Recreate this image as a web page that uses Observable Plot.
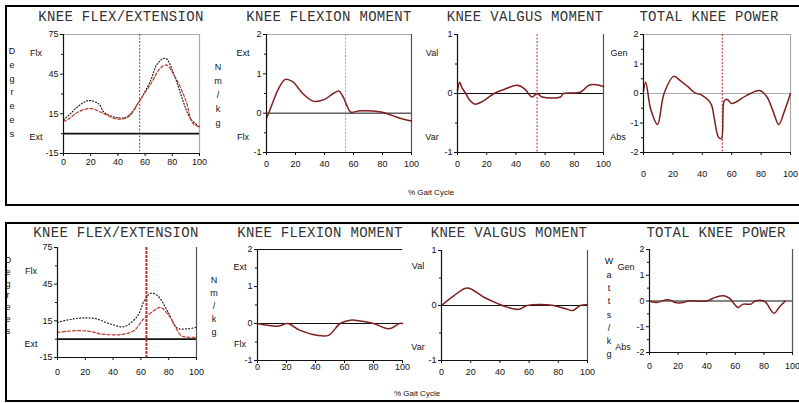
<!DOCTYPE html>
<html><head><meta charset="utf-8">
<script src="https://cdn.jsdelivr.net/npm/d3@7"></script>
<script src="https://cdn.jsdelivr.net/npm/@observablehq/plot@0.6"></script>
<style>
body{margin:0;background:#fff;}
#root{position:relative;width:799px;height:403px;overflow:hidden;font-family:"Liberation Sans",Arial,sans-serif;color:#111;}
.box{position:absolute;border:2px solid #000;box-sizing:content-box;}
.t{position:absolute;white-space:nowrap;transform:translate(-50%,-50%);}
.title{font-family:"Liberation Mono",monospace;font-size:14px;letter-spacing:0.3px;color:#333;}
.lab{font-size:9px;}
.cap{font-size:8px;}
.vert{position:absolute;font-size:9px;text-align:center;width:12px;}
.vert span{display:block;}
svg.panel{position:absolute;}
</style></head>
<body><div id="root"></div>
<script>
// ---------- DATA (percent gait cycle, value) ----------
const gaitTicks = [0, 20, 40, 60, 80, 100];
const rowTitles = ["KNEE FLEX/EXTENSION", "KNEE FLEXION MOMENT", "KNEE VALGUS MOMENT", "TOTAL KNEE POWER"];

// Top row
const flexTopBlackPct = [0, 5, 10, 18, 26, 30, 40, 47, 56, 64, 69, 75, 82, 87, 93, 100];
const flexTopBlackDeg = [10.5, 15, 20, 25, 22.5, 16, 12, 13, 25, 40, 52.8, 57, 42.6, 27.5, 12, 5];
const flexTopRedPct = [0, 5, 10, 20, 30, 40, 48, 56, 65, 70, 75.5, 82, 90, 95, 100];
const flexTopRedDeg = [9, 12, 16, 19, 15, 11, 13, 25, 39, 48, 52, 43, 25, 8, 5];

const momTopPct = [0, 2, 4, 8, 13, 18, 25, 32.6, 40, 46, 50, 53, 56, 58, 65, 79, 86, 92, 100];
const momTopVal = [-0.13, 0.05, 0.24, 0.6, 0.86, 0.8, 0.5, 0.3, 0.35, 0.5, 0.56, 0.4, 0.15, 0.03, 0.06, 0.03, -0.05, -0.13, -0.2];

const valgTopPct = [0, 1.5, 3, 5.7, 8, 12, 18, 25, 33, 41, 46, 51, 54.5, 58, 70.5, 72.5, 84, 90, 95, 100];
const valgTopVal = [0.05, 0.19, 0.1, 0, -0.1, -0.18, -0.12, 0, 0.08, 0.14, 0.08, -0.06, 0, -0.06, -0.06, 0, 0.02, 0.14, 0.15, 0.12];

const powTopPct = [0, 1.5, 5, 9.5, 14, 20.6, 25, 30, 35, 39, 45.8, 48, 51, 53, 55, 57, 60, 70, 79, 84, 88, 92, 96, 100];
const powTopVal = [0.1, 0.38, -0.55, -1.05, 0, 0.58, 0.44, 0.24, 0.02, -0.04, -0.34, -0.8, -1.48, -1.53, -0.24, -0.2, -0.34, -0.07, 0.1, -0.12, -0.58, -1.05, -0.58, 0];

// Bottom row
const flexBotBlackPct = [0, 11.6, 21, 28, 38, 48, 57.6, 62.4, 67, 72, 79, 86, 93, 100];
const flexBotBlackDeg = [13.8, 16.6, 17.4, 16.6, 12.5, 10.3, 19, 31.5, 37.5, 35.6, 23.4, 9.2, 8.4, 9.7];
const flexBotRedPct = [0, 14, 24, 31, 45.6, 55, 62, 69.5, 74, 81, 89, 93.6, 100];
const flexBotRedDeg = [5.6, 7, 6.2, 4.3, 3.8, 7, 16.6, 23.4, 26, 17.9, 3, 1.6, 1.6];

const momBotPct = [0, 7, 14.6, 20.8, 29, 41, 49, 57, 64, 71, 80, 90.6, 98, 100];
const momBotVal = [0, -0.05, -0.07, 0, -0.18, -0.32, -0.32, 0, 0.09, 0.07, 0, -0.14, 0, 0];

const valgBotPct = [0, 8.6, 17.7, 29, 39, 45, 53, 58.6, 67.6, 76.7, 85, 90, 95, 100];
const valgBotVal = [0, 0.18, 0.32, 0.15, 0.03, -0.03, -0.07, 0, 0.02, 0, -0.06, -0.09, 0, 0.02];

const powBotPct = [0, 5, 11, 14, 18, 23.5, 27, 40, 46, 52, 56, 62, 65, 71, 74, 80, 82, 87, 91, 95];
const powBotVal = [0, -0.06, 0.04, 0.04, -0.06, -0.06, 0, 0, 0.14, 0.2, 0.1, -0.25, -0.13, -0.12, 0, 0, -0.1, -0.48, -0.22, 0];

// toe-off markers (% gait)
const toeOffTop = [56, 54.5, 54.5, 53.6];
const toeOffBot = [64, null, null, null];

// ---------- BUILD ----------
const rows = (xs, ys) => xs.map((x, i) => ({pct: x, val: ys[i]}));
const root = document.getElementById("root");

function addBox(l, t, w, h) {
  const d = document.createElement("div");
  d.className = "box";
  Object.assign(d.style, {left: l + "px", top: t + "px", width: w + "px", height: h + "px"});
  root.appendChild(d);
}
function addText(txt, x, y, cls) {
  const d = document.createElement("div");
  d.className = "t " + cls;
  d.textContent = txt;
  d.style.left = x + "px"; d.style.top = y + "px";
  root.appendChild(d);
}
function addVert(txt, x, y0, lh) {
  const d = document.createElement("div");
  d.className = "vert";
  d.style.left = (x - 6) + "px"; d.style.top = (y0 - lh / 2) + "px"; d.style.lineHeight = lh + "px";
  for (const ch of txt) { const s = document.createElement("span"); s.textContent = ch; d.appendChild(s); }
  root.appendChild(d);
}

addBox(5, 5, 810, 197);
addBox(5, 222, 810, 176);

const dark = "#555", grey = "#aaa";
const mainLine = "#7e1f1f";
const panels = [
  {l: 63, t: 34, w: 136, h: 119, yd: [-15, 75], yt: [-15, 15, 45, 75], ym: [0, 30, 60], xPad: 2.5,
   series: [{d: rows(flexTopBlackPct, flexTopBlackDeg), c: "#222", da: "1,2"}, {d: rows(flexTopRedPct, flexTopRedDeg), c: "#c0392b", da: "3,2"}],
   toe: toeOffTop[0], toeW: 1, zero: "#111", zeroW: 1.6, top: grey, right: grey},
  {l: 266, t: 34, w: 145, h: 118, yd: [-1, 2], yt: [-1, 0, 1, 2], ym: [-0.5, 0.5, 1.5], xPad: 5.5,
   series: [{d: rows(momTopPct, momTopVal), c: mainLine}], toe: toeOffTop[1], toeW: 0.8, toeC: "#e07070", zero: "#111", zeroW: 1, top: grey, right: dark},
  {l: 457, t: 34, w: 146, h: 118, yd: [-1, 1], yt: [-1, 0, 1], ym: [-0.5, 0.5], xPad: 5.5,
   series: [{d: rows(valgTopPct, valgTopVal), c: mainLine}], toe: toeOffTop[2], toeW: 1, zero: "#111", zeroW: 1, right: dark},
  {l: 643, t: 34, w: 147, h: 118, yd: [-2, 2], yt: [-2, -1, 0, 1, 2], ym: [-1.5, -0.5, 0.5, 1.5], xPad: 15,
   series: [{d: rows(powTopPct, powTopVal), c: mainLine}], toe: toeOffTop[3], toeW: 1, zero: grey, zeroW: 1.2, top: grey, right: grey},
  {l: 57, t: 247, w: 139, h: 110, yd: [-15, 75], yt: [-15, 15, 45, 75], ym: [0, 30, 60], xPad: 8.5,
   series: [{d: rows(flexBotBlackPct, flexBotBlackDeg), c: "#222", da: "1,2.2"}, {d: rows(flexBotRedPct, flexBotRedDeg), c: "#c0392b", da: "3,2"}],
   toe: toeOffBot[0], toeW: 2, zero: "#111", zeroW: 1.6, right: dark},
  {l: 257, t: 249, w: 145, h: 111, yd: [-1, 2], yt: [-1, 0, 1, 2], ym: [-0.5, 0.5, 1.5], xPad: 0,
   series: [{d: rows(momBotPct, momBotVal), c: mainLine}], zero: "#111", zeroW: 1.2, top: "#111"},
  {l: 441, t: 250, w: 146, h: 110, yd: [-1, 1], yt: [-1, 0, 1], ym: [-0.5, 0.5], xPad: 5.5,
   series: [{d: rows(valgBotPct, valgBotVal), c: mainLine}], zero: "#111", zeroW: 1.2, right: dark},
  {l: 649, t: 249, w: 143, h: 103, yd: [-2, 2], yt: [-2, -1, 0, 1, 2], ym: [-1.5, -0.5, 0.5, 1.5], xPad: 7.5,
   series: [{d: rows(powBotPct, powBotVal), c: mainLine}], zero: "#111", zeroW: 1.2, right: dark}
];

const mL = 30, mR = 6, mT = 6;
for (const p of panels) {
  const mB = p.xPad + 16;
  const marks = [];
  if (p.top) marks.push(Plot.ruleY([p.yd[1]], {stroke: p.top, strokeWidth: 1.2}));
  if (p.right) marks.push(Plot.ruleX([100], {stroke: p.right, strokeWidth: 1.2}));
  marks.push(Plot.ruleY([0], {stroke: p.zero, strokeWidth: p.zeroW}));
  if (p.toe != null) marks.push(Plot.ruleX([p.toe], {stroke: p.toeC || "#c62828", strokeWidth: p.toeW, strokeDasharray: p.toeW > 1.5 ? "3,1" : "2,1.5"}));
  for (const s of p.series) {
    marks.push(Plot.line(s.d, {x: "pct", y: "val", stroke: s.c, strokeWidth: s.da ? 1.2 : 1.5, strokeDasharray: s.da || null, curve: "catmull-rom"}));
  }
  marks.push(Plot.ruleX([0], {stroke: "#111", strokeWidth: 1.2}));
  marks.push(Plot.ruleY([p.yd[0]], {stroke: "#111", strokeWidth: 1.2}));
  marks.push(Plot.axisY({ticks: p.yt, tickSize: 3, tickPadding: 2, label: null, tickFormat: d => String(d)}));
  marks.push(Plot.axisY({ticks: p.ym, tickSize: 2, tickFormat: () => "", label: null}));
  marks.push(Plot.axisX({ticks: gaitTicks, tickSize: 3, tickPadding: p.xPad, label: null}));
  const svg = Plot.plot({
    width: p.w + mL + mR, height: p.h + mT + mB,
    marginLeft: mL, marginRight: mR, marginTop: mT, marginBottom: mB,
    x: {domain: [0, 100]}, y: {domain: p.yd},
    style: {fontFamily: "'Liberation Sans', Arial, sans-serif", fontSize: "9px", color: "#111", background: "transparent", overflow: "visible"},
    marks
  });
  svg.classList.add("panel");
  svg.style.left = (p.l - mL) + "px";
  svg.style.top = (p.t - mT) + "px";
  root.appendChild(svg);
}

// titles
[[121, 17], [329, 17], [525, 17], [709, 17]].forEach((xy, i) => addText(rowTitles[i], xy[0], xy[1], "title"));
[[116, 233], [320, 233], [509, 233], [716, 233]].forEach((xy, i) => addText(rowTitles[i], xy[0], xy[1], "title"));

// side labels
const sideTop = [["Flx", 36, 53], ["Ext", 36, 137], ["Ext", 243, 53], ["Flx", 243, 137], ["Val", 432, 53], ["Var", 432, 137], ["Gen", 619, 53], ["Abs", 618, 137]];
const sideBot = [["Flx", 31, 271], ["Ext", 31, 344], ["Ext", 240, 267], ["Flx", 240, 344], ["Val", 418, 266], ["Var", 418, 347], ["Gen", 626, 267], ["Abs", 623, 347]];
[...sideTop, ...sideBot].forEach(([s, x, y]) => addText(s, x, y, "lab"));

// unit letters
addVert("Degrees", 12, 52, 13.8);
addVert("Nm/kg", 218, 67, 14);
addVert("Degrees", 8, 261, 11.8);
addVert("Nm/kg", 214, 280, 13);
addVert("Watts/kg", 609, 262, 13.3);

addText("% Gait Cycle", 431, 192, "cap");
addText("% Gait Cycle", 417, 393, "cap");
</script>
</body></html>
